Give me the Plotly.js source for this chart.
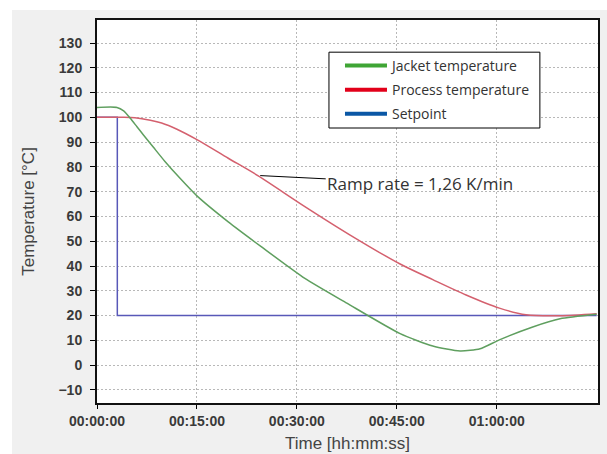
<!DOCTYPE html>
<html>
<head>
<meta charset="utf-8">
<script src="https://cdn.plot.ly/plotly-3.0.1.min.js"></script>
<style>
html,body{margin:0;padding:0;background:#ffffff;}
#chart{position:absolute;left:12px;top:10px;width:595px;height:444px;}
</style>
</head>
<body>
<div id="chart"></div>
<script>
// Time in minutes
const jacketTime = [0, 3, 4, 5, 6, 7, 8.5, 10.2, 12.5, 15, 19.7, 24.7, 31.2, 37.5, 45.5, 50.4, 54.5, 57.5, 60.4, 65.4, 69.5, 75];
const jacketTemp = [104, 104, 102.6, 99.6, 96.2, 92.8, 87.8, 82.2, 75.3, 68.3, 57.8, 47.7, 35, 25, 12.7, 7.7, 5.7, 6.6, 10.2, 15.4, 18.7, 20.5];

const processTime = [0, 4, 5.7, 8, 9.7, 12, 15, 19.7, 24.2, 31.2, 38, 45.5, 50.4, 55.4, 60.4, 64.4, 69.5, 75];
const processTemp = [100, 100, 99.8, 98.8, 97.7, 95.2, 91, 83.5, 76.4, 64, 52.5, 40.8, 34.5, 28.3, 23, 20.3, 19.9, 20.7];

const setpointTime = [0, 3.05, 3.05, 75];
const setpointTemp = [100, 100, 20, 20];

const seriesNames = ['Jacket temperature', 'Process temperature', 'Setpoint'];
const lineColors = ['#5f9f5f', '#d4606e', '#5858b8'];
const legendColors = ['#3fa535', '#e2001a', '#0a57a5'];

const xTickVals = [0, 15, 30, 45, 60];
const xTickText = ['00:00:00', '00:15:00', '00:30:00', '00:45:00', '01:00:00'];
const yTickVals = [-10, 0, 10, 20, 30, 40, 50, 60, 70, 80, 90, 100, 110, 120, 130];

const annotationText = 'Ramp rate = 1,26 K/min';
const annotationPoint = [24.5, 76.5];

const traces = [
  {x: setpointTime, y: setpointTemp, mode: 'lines', line: {color: lineColors[2], width: 1.5}, showlegend: false, hoverinfo: 'skip'},
  {x: processTime, y: processTemp, mode: 'lines', line: {color: lineColors[1], width: 1.5, shape: 'spline', smoothing: 0.8}, showlegend: false},
  {x: jacketTime, y: jacketTemp, mode: 'lines', line: {color: lineColors[0], width: 1.5, shape: 'spline', smoothing: 0.6}, showlegend: false}
];
seriesNames.forEach((n, i) => {
  traces.push({x: [null], y: [null], mode: 'lines', name: n, legendgroup: 'g' + i, line: {color: legendColors[i], width: 4}, showlegend: true});
});

// plot area: 85..586 (w 501), 10..393 (h 383) in div coords
const layout = {
  width: 595, height: 444,
  paper_bgcolor: '#f0f0f0',
  plot_bgcolor: '#ffffff',
  margin: {l: 85, r: 9, t: 10, b: 51},
  showlegend: true,
  legend: {
    x: 0.485, y: 0.922, xanchor: 'left', yanchor: 'top',
    bgcolor: 'rgba(0,0,0,0)', borderwidth: 0,
    font: {family: 'Open Sans', size: 14, color: '#333333'},
    traceorder: 'grouped', tracegroupgap: 3, itemwidth: 42
  },
  shapes: [{
    type: 'rect', xref: 'paper', yref: 'paper', layer: 'above',
    x0: 0.463, x1: 0.884, y0: 0.718, y1: 0.916,
    fillcolor: '#ffffff', line: {color: '#000', width: 1}
  }],
  xaxis: {
    range: [0, 75.2],
    tickvals: xTickVals, ticktext: xTickText,
    ticks: 'outside', ticklen: 4, tickcolor: '#000',
    showline: true, linecolor: '#111', linewidth: 2, mirror: true,
    showgrid: true, gridcolor: '#b8b8b8', griddash: '2px,2px', gridwidth: 1,
    zeroline: false,
    tickfont: {family: 'Liberation Sans', size: 14, color: '#3a3a3a', weight: 'bold'},
    title: {text: 'Time [hh:mm:ss]', font: {family: 'Liberation Sans', size: 17, color: '#444'}, standoff: 9}
  },
  yaxis: {
    range: [-15.3, 139.3],
    tickvals: yTickVals,
    ticks: 'outside', ticklen: 5, tickcolor: '#000',
    ticklabelstandoff: 5,
    showline: true, linecolor: '#111', linewidth: 2, mirror: true,
    showgrid: true, gridcolor: '#b8b8b8', griddash: '2px,2px', gridwidth: 1,
    zeroline: false,
    tickfont: {family: 'Liberation Sans', size: 14, color: '#3a3a3a', weight: 'bold'},
    title: {text: 'Temperature [°C]', font: {family: 'Liberation Sans', size: 17, color: '#444'}, standoff: 20}
  },
  annotations: [{
    x: annotationPoint[0], y: annotationPoint[1], xref: 'x', yref: 'y',
    text: annotationText, showarrow: true, arrowhead: 0, arrowwidth: 1, arrowcolor: '#000',
    ax: 160, ay: 8, standoff: 0,
    font: {family: 'Open Sans', size: 17, color: '#333'}
  }]
};

Plotly.newPlot('chart', traces, layout, {displayModeBar: false, staticPlot: true});
</script>
</body>
</html>
